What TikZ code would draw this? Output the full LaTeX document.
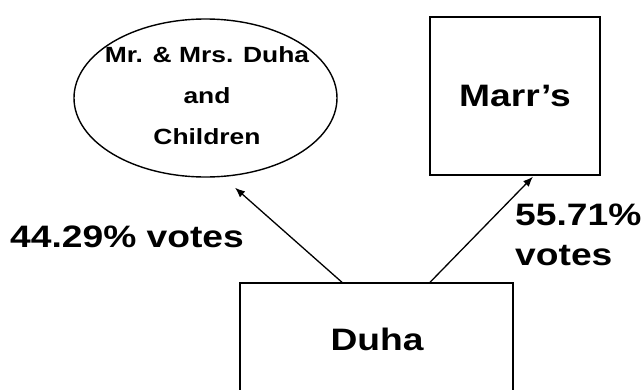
\documentclass[tikz,border=0pt]{standalone}
\usepackage{fontspec}
\setmainfont{Liberation Sans}[FakeStretch=1.2]
\usepackage{tikz}
\usetikzlibrary{arrows.meta, shapes.geometric, calc}

\tikzset{
    owner/.style={draw, line width=1.4pt, inner sep=0pt},
    vote/.style={-{Latex[length=10pt,width=8pt]}, line width=1.3pt},
    bigtext/.style={font=\bfseries\fontsize{31}{40}\selectfont, inner sep=0pt}
}

\begin{document}
\begin{tikzpicture}[x=1pt, y=-1pt]
        % Page frame
        \useasboundingbox (0,0) rectangle (641,389);

        % Shareholders
        \node[owner, ellipse, minimum width=263pt, minimum height=158pt] (family) at (205.5,98) {};
        \node[align=center, font=\bfseries\fontsize{22}{41}\selectfont, inner sep=0pt] (familytext) at (207,96) {Mr. \& Mrs. Duha\\and\\Children};
        \node[owner, minimum width=170pt, minimum height=158pt, bigtext] (marr) at (515,96) {Marr's};

        % Company
        \node[owner, minimum width=273pt, minimum height=140pt, bigtext] (duha) at (376.5,353) {};
        \node[bigtext, anchor=base] (duhatext) at (377,350) {Duha};

        % Vote arrows
        \draw[vote] ($(duha.north)+(-34.5,0)$) -- ($(family.south)+(29.5,10)$);
        \draw[vote] ($(duha.north)+(53.5,0)$) -- ($(marr.south)+(18,1)$);

        % Vote shares
        \node[bigtext, anchor=base west] (leftshare) at (10,247) {44.29\% votes};
        \node[bigtext, anchor=base west, align=left] (rightshare) at (515,265) {55.71\%\\votes};
    \end{tikzpicture}
\end{document}
